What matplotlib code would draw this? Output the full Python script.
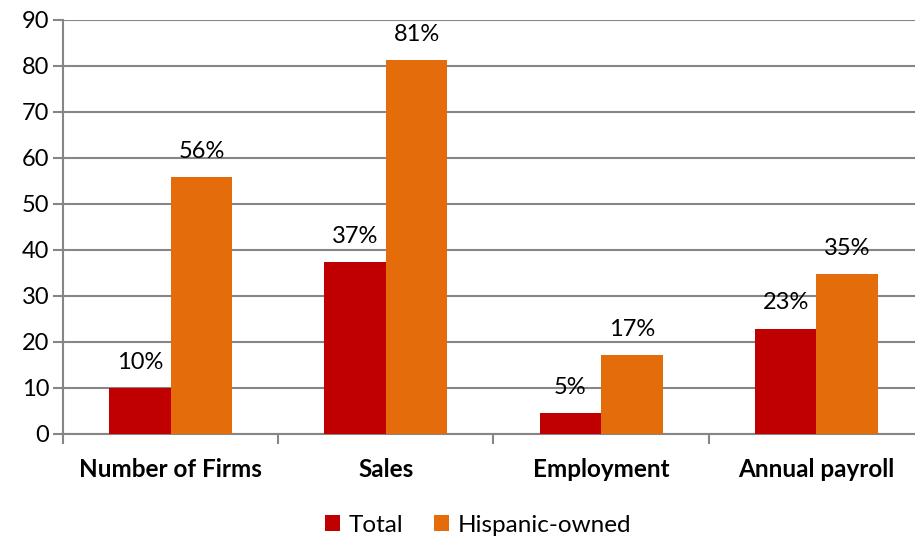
import matplotlib
matplotlib.use("Agg")
import matplotlib.pyplot as plt
import numpy as np
from matplotlib.ticker import FixedLocator

categories = ["Number of Firms", "Sales", "Employment", "Annual payroll"]
total = [10.0, 37.3, 4.6, 22.9]
hispanic = [55.8, 81.3, 17.1, 34.8]
total_labels = ["10%", "37%", "5%", "23%"]
hispanic_labels = ["56%", "81%", "17%", "35%"]
series_names = ["Total", "Hispanic-owned"]

plt.rcParams['font.family'] = ['Lato', 'DejaVu Sans']

fig = plt.figure(figsize=(9.15, 5.4), dpi=100)
W, H = 915, 540
ax = fig.add_axes([63 / W, 1 - 434 / H, (924 - 63) / W, (434 - 20) / H])

x = np.arange(len(categories))
bw = 0.286
c_total = "#C00000"
c_hisp = "#E46C0A"
b1 = ax.bar(x - bw / 2, total, bw, color=c_total, label=series_names[0], zorder=3)
b2 = ax.bar(x + bw / 2, hispanic, bw, color=c_hisp, label=series_names[1], zorder=3)

for bars, labs in ((b1, total_labels), (b2, hispanic_labels)):
    for rect, lab in zip(bars, labs):
        ax.annotate(lab, (rect.get_x() + rect.get_width() / 2, rect.get_height()),
                    xytext=(0, 11), textcoords="offset points", ha="center", va="bottom",
                    fontsize=17, color="black")

ax.set_ylim(0, 90)
ax.set_xlim(-0.5, len(categories) - 0.5)
ax.set_yticks(np.arange(0, 91, 10))
ax.yaxis.grid(True, color="#868686", linewidth=1.5, zorder=0)
ax.set_axisbelow(True)

ax.set_xticks(x)
ax.set_xticklabels(categories, fontsize=17.5, fontweight="bold")
ax.xaxis.set_minor_locator(FixedLocator(np.arange(-0.5, len(categories), 1.0)))
ax.tick_params(axis="x", which="major", length=0, pad=17)
ax.tick_params(axis="x", which="minor", length=7, width=1.5, color="#868686", direction="out")
ax.tick_params(axis="y", length=7, width=1.5, color="#868686", direction="out", labelsize=17, pad=3)

for s in ["top", "right"]:
    ax.spines[s].set_visible(False)
for s in ["left", "bottom"]:
    ax.spines[s].set_color("#868686")
    ax.spines[s].set_linewidth(1.5)

fig.legend(handles=[b1, b2], labels=series_names, loc="center", bbox_to_anchor=(478 / W, 1 - 525 / H),
           ncol=2, frameon=False, fontsize=17.5, handlelength=0.6, handleheight=0.6,
           handletextpad=0.35, columnspacing=1.3)

fig.savefig("out.png", dpi=100)
